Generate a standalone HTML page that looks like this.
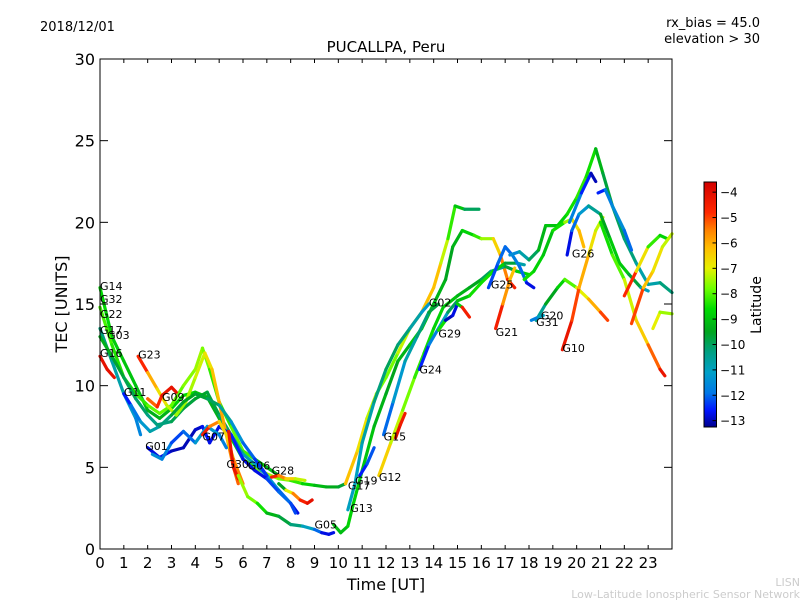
<!DOCTYPE html>
<html><head><meta charset="utf-8"><style>
body{margin:0;background:#fff;}
svg text{font-family:"DejaVu Sans","Liberation Sans",sans-serif;}
</style></head><body>
<svg id="chart" width="800" height="600" viewBox="0 0 800 600" xmlns="http://www.w3.org/2000/svg">
<defs><linearGradient id="jet" x1="0" y1="1" x2="0" y2="0"></linearGradient></defs>
<text x="40" y="31" font-size="13">2018/12/01</text>
<text x="760" y="27" font-size="13" text-anchor="end">rx_bias = 45.0</text>
<text x="760" y="43" font-size="13" text-anchor="end">elevation &gt; 30</text>
<text x="386" y="52" font-size="15" text-anchor="middle">PUCALLPA, Peru</text>
<g id="arcs"></g>
<g id="labels"></g>
<rect x="100" y="59" width="572" height="490" fill="none" stroke="#000" stroke-width="1"/>
<g id="axes"></g>
<text x="386" y="590" font-size="16" text-anchor="middle">Time [UT]</text>
<text transform="translate(67,304) rotate(-90)" font-size="16" text-anchor="middle">TEC [UNITS]</text>
<rect x="704" y="182" width="12.5" height="245" fill="url(#jet)" stroke="#000" stroke-width="1"/>
<g id="cbticks"></g>
<text transform="translate(761,305) rotate(-90)" font-size="14" text-anchor="middle">Latitude</text>
<text x="800" y="586" font-size="11" fill="#ccc" text-anchor="end">LISN</text>
<text x="800" y="598" font-size="11" fill="#ccc" text-anchor="end">Low-Latitude Ionospheric Sensor Network</text>
</svg>
<script>
const xTicks=[0,1,2,3,4,5,6,7,8,9,10,11,12,13,14,15,16,17,18,19,20,21,22,23];
const yTicks=[0,5,10,15,20,25,30];
const cbTicks=[-4,-5,-6,-7,-8,-9,-10,-11,-12,-13];
const latMin=-13.25, latMax=-3.6;
// arcs: [time, tec, latitude]
const G16=[[0,11.8,-4],[0.3,11,-4.2],[0.6,10.5,-4]];
const G14=[[0,16,-8.5],[0.5,13,-8.8],[1,11.5,-9],[1.5,10,-9],[2,8.5,-9.2],[2.5,8,-9.5],[3,8.6,-9],[3.5,9.4,-8.5],[4,9.6,-8.8],[4.5,9.3,-9.2],[5,8,-9.5],[5.5,6.8,-9],[6,5.5,-8.5],[6.5,5,-8],[7,4.6,-7.5],[7.5,4.3,-7.5],[8,4.2,-8],[8.5,4,-8.5],[9,3.9,-9],[9.5,3.8,-9.3],[10,3.8,-9.5],[10.3,4,-9.8]];
const G32=[[0,14.8,-8],[0.5,12.5,-8.2],[1,10.5,-8.5],[1.5,9.5,-8.5],[2,8.8,-8],[2.5,8.3,-7.8],[3,8.8,-8],[3.5,10,-7.8],[4,11,-7.5],[4.3,12.3,-7.5],[4.6,11,-8],[5,9,-8.5],[5.5,7.5,-8],[6,6,-7.8],[6.5,5.5,-8.5],[7,5,-9],[7.5,4.5,-9.5]];
const G22=[[0,13.5,-10],[0.5,11.5,-10.5],[1,9.5,-11],[1.5,8,-11.5],[1.7,7,-11.8]];
const G03=[[0,13,-9.2],[0.5,11.8,-9.5],[1,10.5,-9.8],[1.5,9.2,-10],[2,8.2,-10.2],[2.4,7.6,-10.5],[3,7.8,-10],[3.5,8.6,-9.8],[4,9.2,-9.7],[4.5,9.6,-9.5],[5,8.2,-10],[5.5,7,-10.3],[6,5.8,-10.8],[6.5,5.2,-11],[7,4.5,-11],[7.5,3.6,-11.5],[8,2.8,-12.5],[8.3,2.2,-13]];
const G23=[[1.6,11.8,-4],[2,10.8,-5.5],[2.4,9.8,-6.5],[2.8,8.8,-7],[3.2,8.2,-7.5],[3.6,9,-7.5],[4,10.5,-7.3],[4.4,12,-7],[4.7,11,-6.5],[5,9,-6],[5.3,7,-5.8],[5.6,5,-5.5],[5.8,4,-5]];
const G11=[[1,9.5,-12.8],[1.3,8.8,-12.3],[1.7,7.8,-11.5],[2.1,7.2,-11],[2.5,7.5,-10.5],[3,8.2,-10],[3.5,9,-9.5],[4,9.5,-9.5],[4.5,9.2,-9.8],[5,8.8,-10.2],[5.5,7.8,-11],[6,6.5,-11.8],[6.5,5.5,-12.3],[7,4.5,-12.5]];
const G09=[[2,9.2,-5.5],[2.4,8.7,-5],[2.6,9.4,-4.5],[3,9.9,-4],[3.2,9.6,-4.3]];
const G01=[[2,6.2,-13],[2.5,5.6,-12.5],[3,6,-13],[3.5,6.2,-13],[4,7.3,-13],[4.3,7.5,-12.8],[4.6,6.5,-12.5],[5,7.5,-13],[5.5,7,-12.5],[6,5.5,-12.5],[6.5,4.8,-13],[7,4.3,-12.5],[7.5,3.5,-12],[8,2.8,-12],[8.2,2.2,-12.5]];
const G01b=[[2.2,5.8,-11.5],[2.6,5.5,-11.5],[3,6.5,-12],[3.5,7.2,-12.5],[4,6.5,-11.5],[4.5,7.5,-11],[5,7,-11.5],[5.3,6.2,-12]];
const G07=[[4.3,7,-4],[4.6,7.5,-5],[5,7.8,-6],[5.3,7,-7],[5.6,5.5,-6],[6,4,-5]];
const G30=[[5.4,7.2,-4.5],[5.5,6,-4.2],[5.6,5,-4],[5.8,4.3,-4.5]];
const G28=[[7.2,4.4,-4],[7.5,4.5,-5],[7.8,4.3,-6],[8.2,4.3,-7],[8.6,4.2,-7.5]];
const G28b=[[7.5,4,-11],[7.8,3.6,-8],[8.1,3.4,-6],[8.4,3,-5],[8.7,2.8,-4.2],[8.9,3,-4]];
const G05=[[5.8,4.5,-7.5],[6.2,3.2,-7.5],[6.6,2.8,-8],[7,2.2,-9],[7.5,2,-9.5],[8,1.5,-10],[8.5,1.4,-10.5],[9,1.2,-11.5],[9.3,1,-12.5],[9.6,0.9,-13],[9.8,1,-12.5]];
const G13=[[9.8,1.5,-9],[10.1,1,-9.2],[10.4,1.4,-9],[10.6,2.6,-8.5],[11,4.8,-9],[11.5,7.5,-9],[12,9.5,-9.5],[12.5,11.5,-9.5],[13,12.5,-9],[13.5,13.5,-9],[14,15,-9],[14.5,16.5,-9.5],[14.8,18.5,-9.5],[15.2,19.5,-9],[15.7,19.2,-8.5],[16,19,-8],[16.5,19,-7],[16.8,18,-6],[17.1,16.5,-5],[17.4,16,-4]];
const G02=[[10.3,4,-6],[10.8,6,-6.5],[11.2,8,-7],[11.6,9.5,-7.5],[12,10.5,-8],[12.5,12,-7.5],[13,13.5,-7],[13.5,14.5,-6.5],[14,16,-6],[14.3,17.5,-6.5],[14.6,19,-8],[14.9,21,-8.5],[15.3,20.8,-9.5],[15.9,20.8,-10.5]];
const G17=[[10.4,2.4,-11],[10.7,4,-11],[11,6.5,-11],[11.5,9,-10.5],[12,11,-10],[12.5,12.5,-10],[13,13.5,-10.5],[13.5,14.5,-11],[13.8,15,-11.5]];
const G15=[[11.9,7,-12.5],[12.3,9,-11.5],[12.8,11.5,-11],[13.3,13,-10.5],[13.8,14.5,-10],[14.2,15,-9.5]];
const G12=[[11.7,4.5,-6],[12.2,6.5,-7],[12.7,8.5,-7.5],[13.2,10.5,-8],[13.6,12,-8.5],[14,13.5,-8.5],[14.4,14.8,-9],[15,15.5,-9],[15.5,16,-9.5],[16,16.5,-9.5],[16.4,17,-10.5],[17,17.3,-10.5],[17.5,17,-9],[18,16.8,-8.5]];
const G19=[[10.9,4.5,-12.8],[11.2,5.2,-12.3],[11.5,6.2,-12]];
const G19b=[[12.4,6.8,-4],[12.6,7.6,-4.3],[12.8,8.3,-4.5]];
const G24=[[13.4,11,-13],[13.8,12.5,-12],[14.2,13.5,-11.5],[14.6,14.5,-10.5],[15,15.2,-9.5],[15.5,15.5,-8.5],[16,16.3,-8.5],[16.5,17,-8.5],[17,17.5,-9],[17.5,17.5,-10.5],[17.8,17.4,-11]];
const G29=[[14.2,13.4,-4],[14.5,14,-13],[14.8,14.3,-13],[15,15,-12.5],[15.2,14.8,-5],[15.5,14.2,-4]];
const G21=[[16.6,13.5,-4],[16.9,15,-5],[17.2,16.5,-6.5],[17.4,17.2,-6]];
const G25=[[16.3,16,-12.5],[16.7,17.5,-12],[17,18.5,-12],[17.3,18,-12],[17.6,17.3,-11.5],[17.9,16.3,-12.5],[18.2,16,-13]];
const G25b=[[17.2,18,-12],[17.6,18.2,-11],[18,17.7,-10.5],[18.4,18.3,-9.5],[18.7,19.8,-9],[19.2,19.8,-9],[19.6,20.5,-8.5],[20,21.5,-8.5],[20.4,22.8,-8],[20.8,24.5,-9],[21.1,23,-9.5],[21.5,21,-10],[22,19,-10],[22.5,17.5,-10.5],[23,16.2,-11],[23.5,16.3,-10.5],[24,15.7,-10]];
const G20=[[18.3,14,-11],[18.7,15,-10],[19.2,16,-9],[19.5,16.5,-8.5],[20,16,-7.5],[20.5,15.3,-6.5],[21,14.5,-5.5],[21.3,14,-4.5]];
const G20b=[[17.8,16.5,-8.5],[18.2,17,-8.5],[18.6,18,-9],[19,19.5,-9],[19.5,20,-8],[19.8,20.2,-7],[20.1,19.5,-6.5],[20.3,18.5,-5.8]];
const G31=[[18.1,14,-12],[18.4,14.2,-11.5],[18.6,14.3,-10.5]];
const G10=[[19.4,12.2,-4],[19.8,14,-4.5],[20.1,16,-5.5],[20.5,18,-6.5],[20.8,19.5,-7],[21.1,20.3,-7.5]];
const G26=[[19.6,18,-13],[19.8,19.5,-12.5],[20.1,20.5,-11.5],[20.5,21,-11],[21,20.5,-10],[21.4,19,-9],[21.8,17.5,-8.8],[22.2,16.8,-9],[22.7,16,-10.5],[23,15.8,-11.5]];
const G26b=[[19.7,20,-11.5],[20.2,21.8,-12],[20.6,23,-13],[20.8,22.5,-13]];
const G26c=[[20.9,21.8,-13],[21.2,22,-12],[21.5,21,-11.5],[22,19.5,-11.5],[22.3,18.3,-12.5]];
const G18=[[21,20,-8.5],[21.5,18,-8.5],[22,16.5,-7.5],[22.5,14,-6.8],[23,12.5,-6],[23.5,11,-4.5],[23.7,10.6,-4]];
const G27=[[22,15.5,-4],[22.5,17,-5.5],[23,18.5,-8],[23.5,19.2,-8.5],[23.8,19,-9]];
const G08=[[22.3,13.8,-4],[22.8,16,-6],[23.2,17,-6.5],[23.6,18.5,-7],[24,19.3,-7.5]];
const G04=[[23.2,13.5,-6.5],[23.5,14.5,-7.5],[24,14.4,-7.5]];
const arcs=[G16,G14,G32,G22,G03,G23,G11,G09,G01,G01b,G07,G30,G28,G28b,G05,G13,G02,G17,G15,G12,G19,G19b,G24,G29,G21,G25,G25b,G20,G20b,G31,G10,G26,G26b,G26c,G18,G27,G08,G04];
const labelNames=["G14","G32","G22","G17","G03","G16","G23","G11","G09","G01","G07","G30","G06","G28","G05","G17","G19","G12","G13","G15","G24","G29","G02","G25","G21","G20","G31","G10","G26"];
const labelT=[0,0,0,0,0.3,0,1.6,1,2.6,1.9,4.3,5.3,6.2,7.2,9,10.4,10.7,11.7,10.5,11.9,13.4,14.2,13.8,16.4,16.6,18.5,18.3,19.4,19.8];
const labelV=[16.1,15.3,14.4,13.4,13.1,12,11.9,9.6,9.3,6.3,6.9,5.2,5.1,4.8,1.5,3.9,4.2,4.4,2.5,6.9,11,13.2,15.1,16.2,13.3,14.3,13.9,12.3,18.1];
const X=t=>100+t*572/24, Y=v=>549-v*490/30;
const NS="http://www.w3.org/2000/svg";
const cmap=[[-13.25,[0,0,140]],[-12.6,[0,20,255]],[-11.9,[0,120,230]],[-11.1,[0,160,200]],[-10.3,[0,160,130]],[-9.5,[0,165,30]],[-8.6,[0,220,0]],[-7.8,[110,255,0]],[-7.0,[230,240,0]],[-6.2,[255,190,0]],[-5.5,[255,130,0]],[-4.8,[255,40,0]],[-3.6,[210,0,0]]];
function jet(l){l=Math.max(latMin,Math.min(latMax,l));
 for(let i=0;i<cmap.length-1;i++){const a=cmap[i],b=cmap[i+1];
  if(l<=b[0]){const f=(l-a[0])/(b[0]-a[0]);const c=a[1].map((v,k)=>Math.round(v+(b[1][k]-v)*f));return `rgb(${c[0]},${c[1]},${c[2]})`;}}
 return 'rgb(210,0,0)';}
const grad=document.getElementById('jet');
cmap.forEach(s=>{const st=document.createElementNS(NS,'stop');st.setAttribute('offset',(s[0]-latMin)/(latMax-latMin));st.setAttribute('stop-color',`rgb(${s[1].join(',')})`);grad.appendChild(st);});
const g=document.getElementById('arcs');
arcs.forEach(a=>{for(let i=0;i<a.length-1;i++){
 const p=a[i],q=a[i+1];
 const ln=document.createElementNS(NS,'line');
 
 
 ln.setAttribute('x1',X(p[0]));ln.setAttribute('y1',Y(p[1]));ln.setAttribute('x2',X(q[0]));ln.setAttribute('y2',Y(q[1]));
 ln.setAttribute('stroke',jet((p[2]+q[2])/2));ln.setAttribute('stroke-width','3.2');ln.setAttribute('stroke-linecap','round');
 g.appendChild(ln);}});
const lg=document.getElementById('labels');
labelNames.forEach((n,i)=>{const t=document.createElementNS(NS,'text');
 
 
 t.setAttribute('x',X(labelT[i]));t.setAttribute('y',Y(labelV[i])+4);t.setAttribute('font-size','11');t.textContent=n;lg.appendChild(t);});
const ax=document.getElementById('axes');
function mk(tag,attrs,txt){const e=document.createElementNS(NS,tag);for(const k in attrs)e.setAttribute(k,attrs[k]);if(txt!==undefined)e.textContent=txt;ax.appendChild(e);return e;}
xTicks.forEach(t=>{const x=X(t);
 const a=mk('line',{x1:x,y1:549,x2:x,y2:545,stroke:'#000'});
 const b=mk('line',{x1:x,y1:59,x2:x,y2:63,stroke:'#000'});
 const l=mk('text',{x:x,y:568,'font-size':'15','text-anchor':'middle'},String(t));});
yTicks.forEach(v=>{const y=Y(v);
 const a=mk('line',{x1:100,y1:y,x2:108,y2:y,stroke:'#000'});
 const b=mk('line',{x1:672,y1:y,x2:664,y2:y,stroke:'#000'});
 const l=mk('text',{x:95,y:y+6,'font-size':'16','text-anchor':'end'},String(v));});
const cb=document.getElementById('cbticks');
cbTicks.forEach(v=>{const y=182+(latMax-v)/(latMax-latMin)*245;
 const a=document.createElementNS(NS,'line');
 a.setAttribute('x1',716.5);a.setAttribute('x2',712.5);a.setAttribute('y1',y);a.setAttribute('y2',y);a.setAttribute('stroke','#000');cb.appendChild(a);
 const t=document.createElementNS(NS,'text');
 t.setAttribute('x',720);t.setAttribute('y',y+4.5);t.setAttribute('font-size','12');t.textContent='\u2212'+Math.abs(v);cb.appendChild(t);});
</script>
</body></html>
